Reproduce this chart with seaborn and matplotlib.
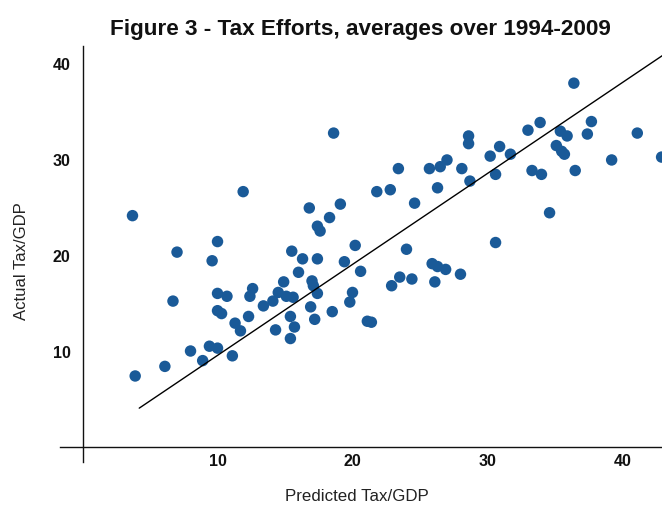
import matplotlib
matplotlib.use("Agg")
import matplotlib.pyplot as plt
import seaborn as sns
import pandas as pd

# ---- data ----
predicted = [3.7, 11.9, 10.0, 7.0, 9.6, 10.0, 10.7, 12.6, 12.4, 6.7,
             10.0, 10.3, 12.3, 13.4, 11.3, 11.7, 14.3, 8.0, 9.4, 10.0,
             8.9, 11.1, 6.1, 3.9, 15.5, 16.3, 17.4, 16.0, 20.2, 19.4,
             20.6, 14.9, 14.5, 15.1, 15.6, 14.1, 17.0, 17.1, 17.4, 16.9,
             20.0, 19.8, 15.4, 18.5, 17.2, 21.1, 15.7, 15.4, 18.6, 28.6,
             28.6, 23.4, 25.7, 27.0, 26.5, 28.1, 28.7, 26.3, 21.8, 22.8,
             24.6, 16.8, 19.1, 18.3, 17.4, 17.6, 24.0, 30.6, 25.9, 26.3,
             26.9, 28.0, 23.5, 24.4, 22.9, 26.1, 21.4, 36.4, 33.0, 33.9,
             35.4, 35.9, 35.1, 35.5, 35.7, 37.7, 37.4, 41.1, 42.9, 39.2,
             30.9, 30.2, 31.7, 30.6, 33.3, 34.0, 36.5, 34.6]
actual = [24.1, 26.6, 21.4, 20.3, 19.4, 16.0, 15.7, 16.5, 15.7, 15.2,
          14.2, 13.9, 13.6, 14.7, 12.9, 12.1, 12.2, 10.0, 10.5, 10.3,
          9.0, 9.5, 8.4, 7.4, 20.4, 19.6, 19.6, 18.2, 21.0, 19.3,
          18.3, 17.2, 16.1, 15.7, 15.6, 15.2, 17.3, 16.8, 16.0, 14.6,
          16.1, 15.1, 13.6, 14.1, 13.3, 13.1, 12.5, 11.3, 32.7, 32.4,
          31.6, 29.0, 29.0, 29.9, 29.2, 29.0, 27.7, 27.0, 26.6, 26.8,
          25.4, 24.9, 25.3, 23.9, 23.0, 22.5, 20.6, 21.3, 19.1, 18.8,
          18.5, 18.0, 17.7, 17.5, 16.8, 17.2, 13.0, 37.9, 33.0, 33.8,
          32.9, 32.4, 31.4, 30.8, 30.5, 33.9, 32.6, 32.7, 30.2, 29.9,
          31.3, 30.3, 30.5, 28.4, 28.8, 28.4, 28.8, 24.4]
fit_x = [4.2, 43.2]
fit_y = [4.05, 41.0]
tick_values = [10, 20, 30, 40]
tick_labels = ["10", "20", "30", "40"]
title = "Figure 3 - Tax Efforts, averages over 1994-2009"
xlabel = "Predicted Tax/GDP"
ylabel = "Actual Tax/GDP"

df = pd.DataFrame({"Predicted": predicted, "Actual": actual})

sns.set_style("white")
plt.rcParams["font.family"] = ["Liberation Sans", "DejaVu Sans"]

fig = plt.figure(figsize=(6.62, 5.06), dpi=100)
ax = fig.add_axes([60 / 662, 43 / 506, 602 / 662, 416 / 506])

sns.scatterplot(data=df, x="Predicted", y="Actual", ax=ax, s=68,
                color="#1a5a98", edgecolor="none", linewidth=0, zorder=3)
ax.plot(fit_x, fit_y, color="black", linewidth=1.0, zorder=4)

ax.set_xlim(-1.67, 42.93)
ax.set_ylim(-1.56, 41.77)

for side in ["top", "right"]:
    ax.spines[side].set_visible(False)
for side in ["left", "bottom"]:
    ax.spines[side].set_position(("data", 0))
    ax.spines[side].set_color("#111111")
    ax.spines[side].set_linewidth(1.0)

ax.set_xticks(tick_values)
ax.set_xticklabels(tick_labels)
ax.set_yticks(tick_values)
ax.set_yticklabels(tick_labels)
ax.tick_params(axis="both", length=0, labelsize=11.5, colors="#111111")
ax.tick_params(axis="x", pad=4.5)
ax.tick_params(axis="y", pad=8.5)
for lab in ax.get_xticklabels() + ax.get_yticklabels():
    lab.set_fontweight("bold")

ax.set_xlabel("")
ax.set_ylabel("")

fig.text(360 / 662, 1 - 30 / 506, title, ha="center", va="center",
         fontsize=16.2, fontweight="bold", color="#111111")
fig.text(357 / 662, 1 - 497 / 506, xlabel, ha="center", va="center",
         fontsize=12.2, color="#222222")
fig.text(22 / 662, 1 - 261 / 506, ylabel, ha="center", va="center",
         rotation=90, fontsize=12, color="#222222")

fig.savefig("out.png", dpi=100, facecolor="white")
